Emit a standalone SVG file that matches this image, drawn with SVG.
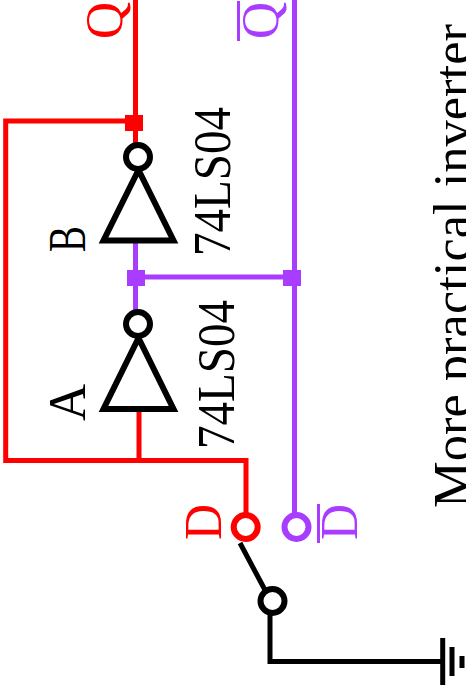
<svg xmlns="http://www.w3.org/2000/svg" width="466" height="698" viewBox="0 0 466 698">
<style>
text{font-family:"Liberation Serif","Times New Roman",serif;font-size:52px;fill:#000}
.w{fill:none;stroke-width:5;stroke-linecap:butt;stroke-linejoin:miter}
.r{stroke:#f00}.p{stroke:#a93dff}.k{stroke:#000}
.gate{fill:none;stroke:#000;stroke-width:6;stroke-linejoin:miter}
.pin{fill:#fff;stroke-width:6}
.tr{fill:#f00}.tp{fill:#a93dff}
</style>
<g id="connectors">
<path class="w r" d="M135.500 0V156M135.500 121H5.700V460.500H246V514"/>
<path class="w r" d="M139 409V460"/>
<path class="w p" d="M135.500 241V312M135.500 277H294.500M294.500 0V514"/>
<path class="w k" d="M240 543L265 590M270 612V661.500H443"/>
<rect x="125" y="115" width="18" height="16" fill="#f00"/>
<rect x="127" y="270" width="18" height="16" fill="#a93dff"/>
<rect x="283" y="270" width="18" height="16" fill="#a93dff"/>
</g>
<g id="inverter-b">
<path class="gate" d="M138.500 170L103.500 240.500H173.500Z"/>
<circle class="pin k" cx="138" cy="157" r="12"/>
<text transform="translate(85 252) rotate(-90)" textLength="26" lengthAdjust="spacingAndGlyphs">B</text>
<text transform="translate(230 256) rotate(-90)" textLength="149" lengthAdjust="spacingAndGlyphs">74LS04</text>
</g>
<g id="inverter-a">
<path class="gate" d="M138.500 338L103.500 409H173.500Z"/>
<circle class="pin k" cx="138" cy="324" r="12"/>
<text transform="translate(85 421) rotate(-90)" textLength="37" lengthAdjust="spacingAndGlyphs">A</text>
<text transform="translate(234 449) rotate(-90)" textLength="149" lengthAdjust="spacingAndGlyphs">74LS04</text>
</g>
<g id="output-q">
<text class="tr" transform="translate(122 39) rotate(-90)" textLength="37" lengthAdjust="spacingAndGlyphs">Q</text>
</g>
<g id="output-qbar">
<text class="tp" transform="translate(278 39) rotate(-90)" textLength="37" lengthAdjust="spacingAndGlyphs">Q</text>
<rect x="237" y="1" width="3" height="40" fill="#a93dff"/>
</g>
<g id="input-d">
<circle class="pin r" cx="245.700" cy="527" r="12"/>
<text class="tr" transform="translate(221 540) rotate(-90)" textLength="36" lengthAdjust="spacingAndGlyphs">D</text>
</g>
<g id="input-dbar">
<circle class="pin p" cx="296.500" cy="527" r="12"/>
<text class="tp" transform="translate(357 540) rotate(-90)" textLength="36" lengthAdjust="spacingAndGlyphs">D</text>
<rect x="317" y="504" width="3" height="39" fill="#a93dff"/>
</g>
<g id="switch">
<circle class="pin k" cx="272.500" cy="601" r="12"/>
</g>
<g id="ground">
<path class="w k" d="M442.700 638V685M452 647V676M462 656V668"/>
</g>
<g id="caption">
<text transform="translate(470 508) rotate(-90)" textLength="484" lengthAdjust="spacingAndGlyphs">More practical inverter</text>
</g>
</svg>
